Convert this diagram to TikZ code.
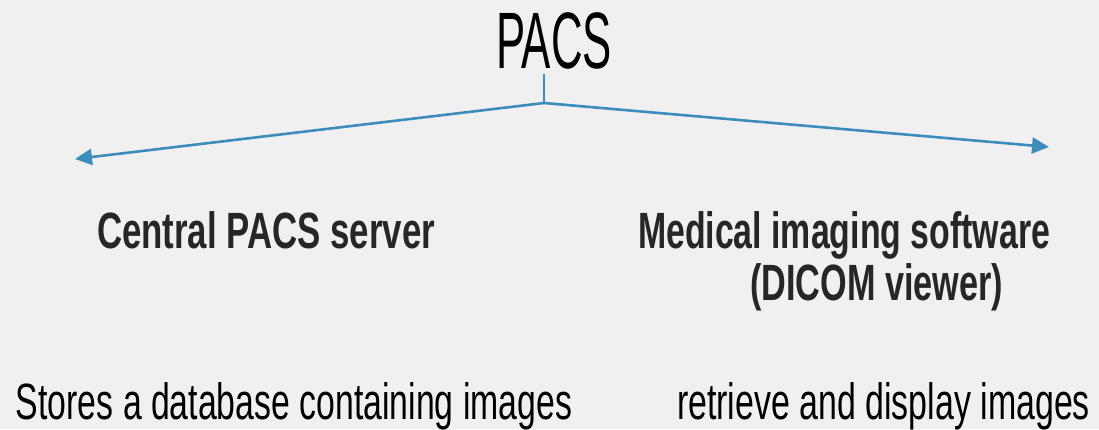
\documentclass[tikz,border=0pt]{standalone}
\usepackage{fontspec}
\usepackage{graphicx}
\setmainfont{Liberation Sans}
\usetikzlibrary{arrows.meta}
\definecolor{bg}{RGB}{240,240,240}
\definecolor{link}{RGB}{60,140,188}
\definecolor{ink}{RGB}{38,38,38}
\newcommand{\fitw}[3]{\resizebox{#1}{\height}{\fontsize{#2}{#2}\selectfont #3}}
\tikzset{
  txt/.style={inner sep=0pt, outer sep=0pt, anchor=base west},
  heading/.style={txt, text=ink, font=\bfseries},
  plain/.style={txt, text=black},
  conn/.style={draw=link, line width=2.6pt, -{Triangle[length=17pt,width=16pt]}},
  stem/.style={draw=link, line width=1.4pt}
}
\begin{document}
\begin{tikzpicture}[x=1pt,y=-1pt]
\fill[bg] (0,0) rectangle (1099,429);
\useasboundingbox (0,0) rectangle (1099,429);

\node[plain] (title) at (496,68) {\fitw{116pt}{80pt}{PACS}};

\coordinate (top) at (544,74);
\coordinate (j) at (544,103);
\coordinate (lend) at (75,159);
\coordinate (rend) at (1049,147);

\draw[stem] (top) -- (j);
\draw[conn] (j) -- (lend);
\draw[conn] (j) -- (rend);

\node[heading] (server) at (97,248) {\fitw{338pt}{51pt}{\bfseries Central PACS server}};
\node[heading] (soft1) at (638,248) {\fitw{412pt}{51pt}{\bfseries Medical imaging software}};
\node[heading] (soft2) at (750,300) {\fitw{253pt}{51pt}{\bfseries (DICOM viewer)}};

\node[plain] (desc1) at (16,419) {\fitw{556pt}{51pt}{Stores a database containing images}};
\node[plain] (desc2) at (677,419) {\fitw{413pt}{51pt}{retrieve and display images}};
\end{tikzpicture}
\end{document}
